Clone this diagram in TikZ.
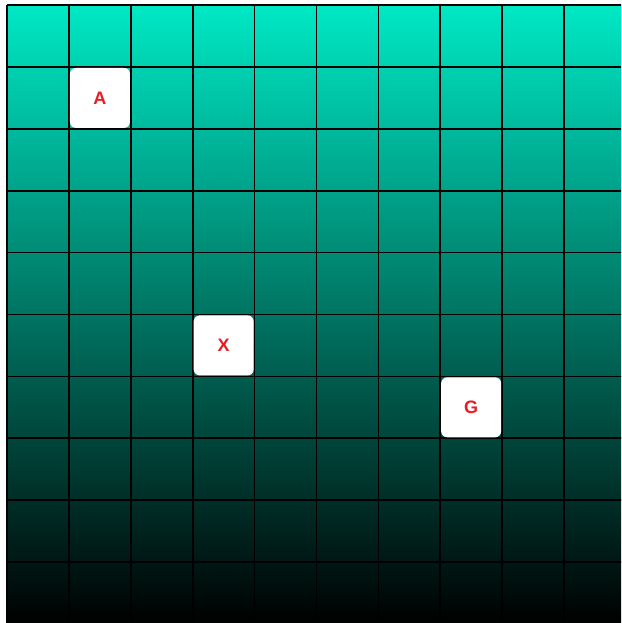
\documentclass[tikz,border=0pt]{standalone}
\usepackage{fontspec}
\setmainfont{Liberation Sans}
\definecolor{teal1}{RGB}{0,232,196}
\definecolor{lblred}{RGB}{232,28,36}
\begin{document}
\begin{tikzpicture}[x=1pt,y=-1pt,
  gridline/.style={black,line width=1.6pt},
  tile/.style={draw=none,fill=white,rounded corners=6pt,minimum width=60pt,minimum height=60pt,inner sep=0pt,
    text=lblred,font=\fontsize{18}{21}\selectfont\bfseries}]
\useasboundingbox (0,0) rectangle (621,623);
\fill[white] (0,0) rectangle (621,623);
\begin{scope}
\clip (0,0) rectangle (621,623);
\shade[top color=teal1,bottom color=black] (7.1,5.1) rectangle (626,624);
\foreach \i in {0,...,10}{
  \draw[gridline] ({7.1+\i*61.875},5.1) -- ({7.1+\i*61.875},624);
  \draw[gridline] (7.1,{5.1+\i*61.875}) -- (626,{5.1+\i*61.875});
}
\end{scope}
\node[tile] (A) at ({7.1+1.5*61.875},{5.1+1.5*61.875}) {A};
\node[tile] (X) at ({7.1+3.5*61.875},{5.1+5.5*61.875}) {X};
\node[tile] (G) at ({7.1+7.5*61.875},{5.1+6.5*61.875}) {G};
\end{tikzpicture}
\end{document}
